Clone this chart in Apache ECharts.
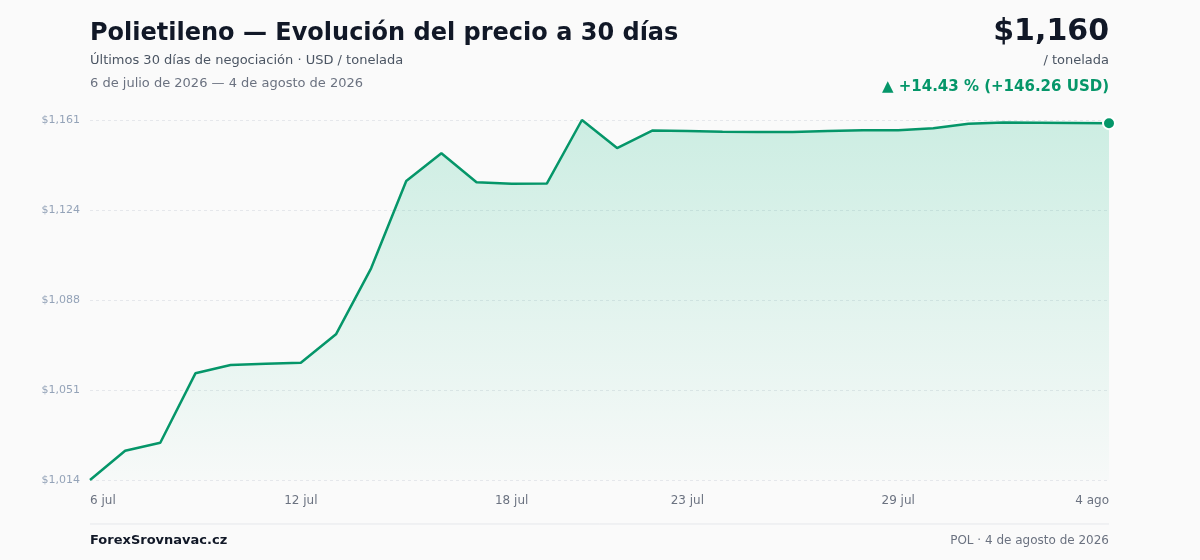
<!DOCTYPE html>
<html>
<head>
<meta charset="utf-8">
<script src="https://cdn.jsdelivr.net/npm/echarts@6/dist/echarts.min.js"></script>
<style>
  html, body { margin: 0; padding: 0; background: #fafafa; }
  #chart { width: 1200px; height: 560px; }
</style>
</head>
<body>
<div id="chart"></div>
<script>
var myChart = echarts.init(document.getElementById('chart'));

// fechas (30 días de negociación)
var days = ['6 jul', '7 jul', '8 jul', '9 jul', '10 jul', '11 jul', '12 jul', '13 jul', '14 jul', '15 jul',
  '16 jul', '17 jul', '18 jul', '19 jul', '20 jul', '21 jul', '22 jul', '23 jul', '24 jul', '25 jul',
  '26 jul', '27 jul', '28 jul', '29 jul', '30 jul', '31 jul', '1 ago', '2 ago', '3 ago', '4 ago'];

// precio USD / tonelada
var prices = [1013.74, 1025.75, 1029.03, 1057.47, 1060.88, 1061.41, 1061.82, 1073.46, 1100.51, 1136.30,
  1147.65, 1135.76, 1135.19, 1135.25, 1161.30, 1149.82, 1156.99, 1156.80, 1156.50, 1156.40,
  1156.40, 1156.80, 1157.10, 1157.05, 1157.90, 1159.78, 1160.30, 1160.20, 1160.10, 1160.00];

// índices con etiqueta en el eje x
var labelIdx = [0, 6, 12, 17, 23, 29];

var yMin = Math.min.apply(null, prices);
var yMax = Math.max.apply(null, prices);
var last = prices.length - 1;
var green = '#059669';
var font = '"DejaVu Sans", sans-serif';

var lastPoint = prices.map(function (v, i) { return i === last ? v : null; });

option = {
    backgroundColor: '#fafafa',
    animation: false,
    grid: { left: 90, right: 91, top: 120, bottom: 80 },
    xAxis: {
        type: 'category',
        data: days,
        boundaryGap: false,
        axisLine: { show: false },
        axisTick: { show: false },
        splitLine: { show: false },
        axisLabel: {
            interval: function (idx) { return labelIdx.indexOf(idx) >= 0; },
            color: '#6b7280',
            fontSize: 12,
            fontFamily: font,
            margin: 15,
            alignMinLabel: 'left',
            alignMaxLabel: 'right'
        }
    },
    yAxis: {
        type: 'value',
        min: yMin,
        max: yMax,
        interval: (yMax - yMin) / 4,
        axisLine: { show: false },
        axisTick: { show: false },
        axisLabel: {
            color: '#94a3b8',
            fontSize: 11,
            fontFamily: font,
            margin: 10,
            formatter: function (v) {
                return '$' + Math.round(v).toLocaleString('en-US');
            }
        },
        splitLine: {
            lineStyle: { color: '#e5e7eb', type: [3, 3], width: 1 }
        }
    },
    series: [
        {
            type: 'line',
            data: prices,
            symbol: 'none',
            lineStyle: { color: green, width: 2.5 },
            areaStyle: {
                color: new echarts.graphic.LinearGradient(0, 0, 0, 1, [
                    { offset: 0, color: 'rgba(16,185,129,0.28)' },
                    { offset: 1, color: 'rgba(16,185,129,0.02)' }
                ])
            }
        },
        {
            type: 'scatter',
            data: lastPoint,
            symbolSize: 12,
            itemStyle: { color: green, opacity: 1, borderColor: '#ffffff', borderWidth: 2 },
            z: 5
        }
    ],
    graphic: [
        {
            type: 'text', x: 90, y: 34,
            style: { text: 'Polietileno — Evolución del precio a 30 días', font: 'bold 24px ' + font, fill: '#111827', textVerticalAlign: 'middle' }
        },
        {
            type: 'text', x: 90, y: 61,
            style: { text: 'Últimos 30 días de negociación · USD / tonelada', font: '13px ' + font, fill: '#4b5563', textVerticalAlign: 'middle' }
        },
        {
            type: 'text', x: 90, y: 84,
            style: { text: '6 de julio de 2026 — 4 de agosto de 2026', font: '13px ' + font, fill: '#6b7280', textVerticalAlign: 'middle' }
        },
        {
            type: 'text', x: 1109, y: 32,
            style: { text: '$1,160', font: 'bold 30px ' + font, fill: '#111827', textAlign: 'right', textVerticalAlign: 'middle' }
        },
        {
            type: 'text', x: 1109, y: 61,
            style: { text: '/ tonelada', font: '13px ' + font, fill: '#4b5563', textAlign: 'right', textVerticalAlign: 'middle' }
        },
        {
            type: 'text', x: 1109, y: 87,
            style: { text: '▲ +14.43 % (+146.26 USD)', font: 'bold 15px ' + font, fill: green, textAlign: 'right', textVerticalAlign: 'middle' }
        },
        {
            type: 'line',
            shape: { x1: 90, y1: 524, x2: 1109, y2: 524 },
            style: { stroke: '#e5e7eb', lineWidth: 1 }
        },
        {
            type: 'text', x: 90, y: 541,
            style: { text: 'ForexSrovnavac.cz', font: 'bold 13px ' + font, fill: '#111827', textVerticalAlign: 'middle' }
        },
        {
            type: 'text', x: 1109, y: 541,
            style: { text: 'POL · 4 de agosto de 2026', font: '12px ' + font, fill: '#6b7280', textAlign: 'right', textVerticalAlign: 'middle' }
        }
    ]
};

myChart.setOption(option);
</script>
</body>
</html>
